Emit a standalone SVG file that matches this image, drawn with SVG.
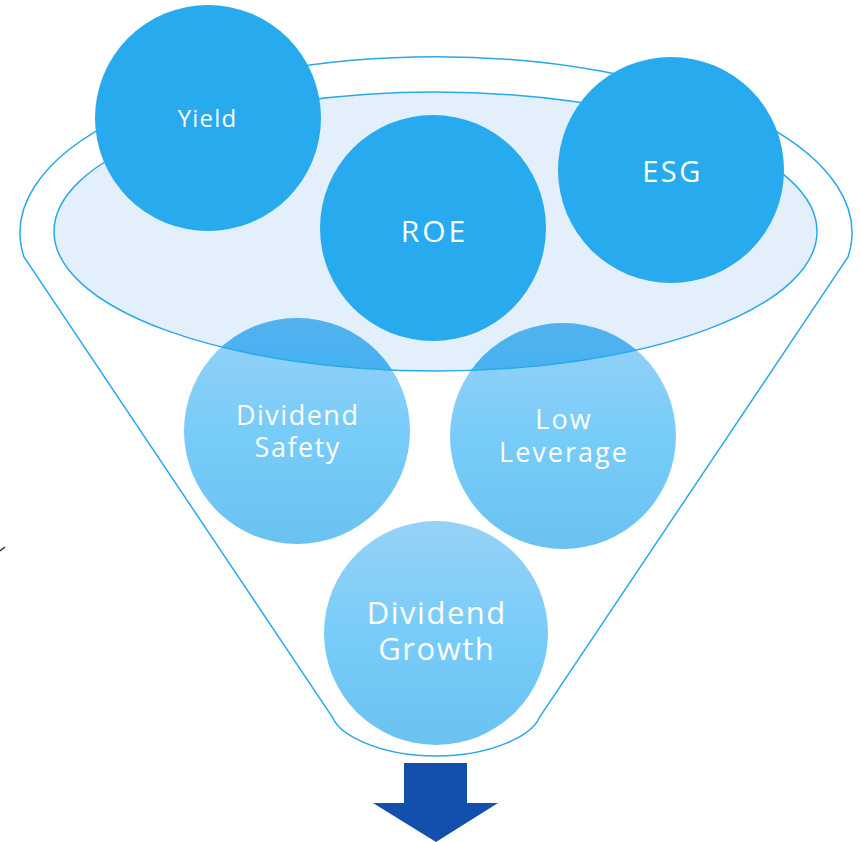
<svg xmlns="http://www.w3.org/2000/svg" width="861" height="842" viewBox="0 0 861 842">
<style>
.top{fill:#27AAEE}
.low{fill:url(#lowGrad)}
.lowDark{fill:url(#darkGrad)}
.line{fill:none;stroke:#29A9EA;stroke-width:1.5}
.lbl{font-family:"Open Sans","Liberation Sans",sans-serif;font-weight:400;fill:#FFFFFF;text-anchor:middle}
</style>
<defs>
<linearGradient id="lowGrad" x1="0" y1="0" x2="0" y2="1">
<stop offset="0" stop-color="#97D2F6"/>
<stop offset="0.5" stop-color="#78CCF9"/>
<stop offset="1" stop-color="#6AC2F0"/>
</linearGradient>
<linearGradient id="darkGrad" x1="0" y1="0" x2="0" y2="1">
<stop offset="0" stop-color="#52B2EE"/>
<stop offset="0.3" stop-color="#42B1F3"/>
<stop offset="1" stop-color="#3AAEF2"/>
</linearGradient>
<clipPath id="ellClip">
<ellipse cx="435.5" cy="231.5" rx="381.5" ry="139.5"/>
</clipPath>
</defs>
<g id="funnel">
<path class="line" d="M24,257 A416,176 0 1 1 848,257 L539,718 C532,735 492,756 436,756 C380,756 340,735 333,718 Z"/>
<ellipse cx="435.5" cy="231.5" rx="381.5" ry="139.5" fill="#E3F0FB"/>
</g>
<g id="dividend-safety">
<circle class="low" cx="297" cy="431" r="113"/>
<circle class="lowDark" cx="297" cy="431" r="113" clip-path="url(#ellClip)"/>
<text class="lbl" x="297.7" y="425" font-size="27" letter-spacing="1.5">Dividend</text>
<text class="lbl" x="297.7" y="457" font-size="27" letter-spacing="1.5">Safety</text>
</g>
<g id="low-leverage">
<circle class="low" cx="563" cy="436" r="113"/>
<circle class="lowDark" cx="563" cy="436" r="113" clip-path="url(#ellClip)"/>
<text class="lbl" x="564" y="429" font-size="27" letter-spacing="2">Low</text>
<text class="lbl" x="564" y="462" font-size="27" letter-spacing="2">Leverage</text>
</g>
<g id="dividend-growth">
<circle class="low" cx="436" cy="633" r="112"/>
<text class="lbl" x="436.8" y="624" font-size="31" letter-spacing="1.5">Dividend</text>
<text class="lbl" x="436.8" y="660" font-size="31" letter-spacing="1.5">Growth</text>
</g>
<ellipse class="line" cx="435.5" cy="231.5" rx="381.5" ry="139.5"/>
<g id="yield">
<circle class="top" cx="208" cy="118" r="113"/>
<text class="lbl" x="207.6" y="127" font-size="24" letter-spacing="1.2">Yield</text>
</g>
<g id="roe">
<circle class="top" cx="433" cy="228" r="113"/>
<text class="lbl" x="434.5" y="242" font-size="30" letter-spacing="3">ROE</text>
</g>
<g id="esg">
<circle class="top" cx="671" cy="170" r="113"/>
<text class="lbl" x="672.5" y="182" font-size="29" letter-spacing="2.5">ESG</text>
</g>
<g id="connectors">
<path d="M404,763 L467,763 L467,803 L498,803 L436,842 L373,803 L404,803 Z" fill="#134FAD"/>
</g>
<path d="M0,551 L5,547" stroke="#333" stroke-width="1.5" fill="none"/>
</svg>
